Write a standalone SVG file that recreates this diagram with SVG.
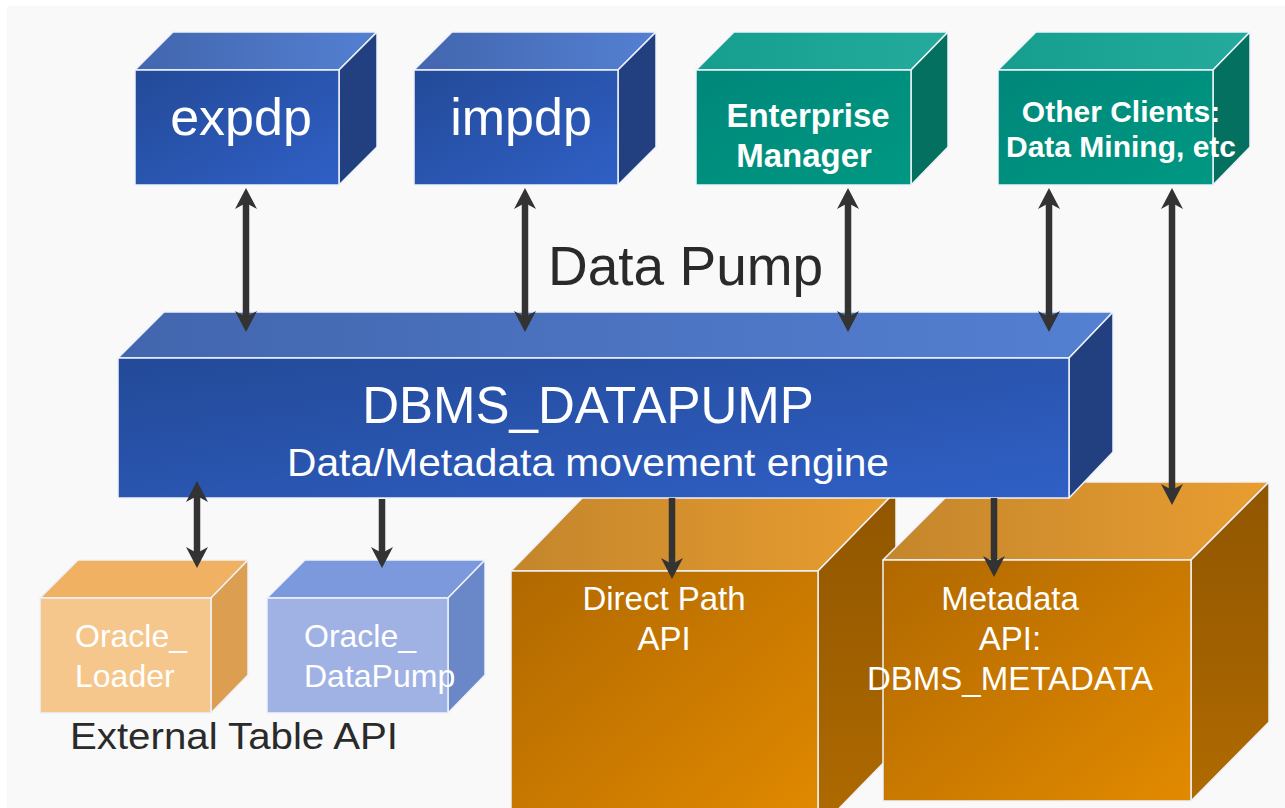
<svg xmlns="http://www.w3.org/2000/svg" width="1285" height="808" viewBox="0 0 1285 808">
<defs>
<linearGradient id="gBlueF" x1="0" y1="0" x2="1" y2="1"><stop offset="0" stop-color="#234a98"/><stop offset="1" stop-color="#3060c6"/></linearGradient>
<linearGradient id="gBlueT" x1="0" y1="0" x2="1" y2="0"><stop offset="0" stop-color="#4266ae"/><stop offset="1" stop-color="#5480d2"/></linearGradient>
<linearGradient id="gTealF" x1="0" y1="0" x2="1" y2="1"><stop offset="0" stop-color="#00877a"/><stop offset="1" stop-color="#009882"/></linearGradient>
<linearGradient id="gTealT" x1="0" y1="0" x2="1" y2="0"><stop offset="0" stop-color="#159e8e"/><stop offset="1" stop-color="#24ab9b"/></linearGradient>
<linearGradient id="gOrF" x1="0" y1="0" x2="1" y2="1"><stop offset="0" stop-color="#b06800"/><stop offset="1" stop-color="#e28a00"/></linearGradient>
<linearGradient id="gOrT" x1="0" y1="0" x2="1" y2="0"><stop offset="0" stop-color="#c4862c"/><stop offset="1" stop-color="#e99d30"/></linearGradient>
<linearGradient id="gOrS" x1="0" y1="0" x2="0" y2="1"><stop offset="0" stop-color="#905600"/><stop offset="1" stop-color="#b06a00"/></linearGradient>
<marker id="ah" viewBox="-14 -14 28 28" refX="0" refY="0" markerWidth="28" markerHeight="28" markerUnits="userSpaceOnUse" orient="auto-start-reverse">
<path d="M10,0 L-11,-11 L-5,0 L-11,11 Z" fill="#333333"/>
</marker>
</defs>
<style>
.edge{stroke:#eef2fa;stroke-width:1.5;stroke-linejoin:round}
.bf{fill:url(#gBlueF)}
.bt{fill:url(#gBlueT)}
.bs{fill:#223f80}
.tf{fill:url(#gTealF)}
.tt{fill:url(#gTealT)}
.ts{fill:#04705f}
.of{fill:url(#gOrF)}
.ot{fill:url(#gOrT)}
.os{fill:url(#gOrS)}
.w{fill:#ffffff;font-family:"Liberation Sans",Arial,sans-serif}
.wb{fill:#ffffff;font-family:"Liberation Sans",Arial,sans-serif;font-weight:bold}
.dk{fill:#2a2a2a;font-family:"Liberation Sans",Arial,sans-serif}
.arr{stroke:#333333;stroke-width:6.5;fill:none}
</style>
<rect x="0" y="0" width="1285" height="808" fill="#ffffff"/>
<rect x="7" y="6" width="1278" height="802" fill="#f9f9f9"/>

<g id="direct-path">
<polygon class="ot edge" points="511,571 589,491 896,491 818,571"/>
<polygon class="os edge" points="818,571 896,491 896,750 818,830"/>
<rect class="of edge" x="511" y="571" width="307" height="260"/>
<text class="w" x="664" y="610" font-size="33" text-anchor="middle">Direct Path</text>
<text class="w" x="664" y="650" font-size="33" text-anchor="middle">API</text>
</g>

<g id="metadata-api">
<polygon class="ot edge" points="883,560 961,482 1269,482 1191,560"/>
<polygon class="os edge" points="1191,560 1269,482 1269,722 1191,801"/>
<rect class="of edge" x="883" y="560" width="308" height="241"/>
<text class="w" x="1010" y="610" font-size="33" text-anchor="middle">Metadata</text>
<text class="w" x="1010" y="650" font-size="33" text-anchor="middle">API:</text>
<text class="w" x="1010" y="690" font-size="33" text-anchor="middle">DBMS_METADATA</text>
</g>

<g id="dbms-datapump">
<polygon class="bt edge" points="118,358 164,312 1113,312 1069,358"/>
<polygon class="bs edge" points="1069,358 1113,312 1113,452 1069,498"/>
<rect class="bf edge" x="118" y="358" width="951" height="140"/>
<text class="w" x="588" y="423" font-size="51" text-anchor="middle">DBMS_DATAPUMP</text>
<text class="w" x="287" y="476" font-size="38" textLength="602" lengthAdjust="spacingAndGlyphs">Data/Metadata movement engine</text>
</g>

<g id="expdp">
<polygon class="bt edge" points="135,70 173,32 377,32 339,70"/>
<polygon class="bs edge" points="339,70 377,32 377,147 339,185"/>
<rect class="bf edge" x="135" y="70" width="204" height="115"/>
<text class="w" x="241" y="135" font-size="52" text-anchor="middle">expdp</text>
</g>

<g id="impdp">
<polygon class="bt edge" points="414,70 452,32 656,32 618,70"/>
<polygon class="bs edge" points="618,70 656,32 656,147 618,185"/>
<rect class="bf edge" x="414" y="70" width="204" height="115"/>
<text class="w" x="521" y="135" font-size="52" text-anchor="middle">impdp</text>
</g>

<g id="enterprise-manager">
<polygon class="tt edge" points="696,70 734,32 948,32 911,70"/>
<polygon class="ts edge" points="911,70 948,32 948,147 911,185"/>
<rect class="tf edge" x="696" y="70" width="215" height="115"/>
<text class="wb" x="808" y="127" font-size="33" text-anchor="middle">Enterprise</text>
<text class="wb" x="804" y="167" font-size="33" text-anchor="middle">Manager</text>
</g>

<g id="other-clients">
<polygon class="tt edge" points="998,70 1036,32 1250,32 1213,70"/>
<polygon class="ts edge" points="1213,70 1250,32 1250,147 1213,185"/>
<rect class="tf edge" x="998" y="70" width="215" height="115"/>
<text class="wb" x="1121" y="122" font-size="30" text-anchor="middle">Other Clients:</text>
<text class="wb" x="1121" y="157" font-size="30" text-anchor="middle">Data Mining, etc</text>
</g>

<g id="oracle-loader">
<polygon class="edge" fill="#f0b262" points="40,598 78,560 248,560 211,598"/>
<polygon class="edge" fill="#dc9e50" points="211,598 248,560 248,675 211,713"/>
<rect class="edge" fill="#f5c78c" x="40" y="598" width="171" height="115"/>
<text class="w" x="75" y="647" font-size="32">Oracle_</text>
<text class="w" x="75" y="687" font-size="32">Loader</text>
</g>

<g id="oracle-datapump">
<polygon class="edge" fill="#7b99dc" points="267,598 305,560 485,560 448,598"/>
<polygon class="edge" fill="#6a87c8" points="448,598 485,560 485,675 448,713"/>
<rect class="edge" fill="#a0b2e4" x="267" y="598" width="181" height="115"/>
<text class="w" x="304" y="647" font-size="32">Oracle_</text>
<text class="w" x="304" y="687" font-size="32">DataPump</text>
</g>

<text id="data-pump-label" class="dk" x="548" y="285" font-size="55">Data Pump</text>
<text id="external-table-label" class="dk" x="70" y="749" font-size="37" textLength="328" lengthAdjust="spacingAndGlyphs">External Table API</text>

<g id="connectors">
<line class="arr" x1="246" y1="198" x2="246" y2="322" marker-start="url(#ah)" marker-end="url(#ah)"/>
<line class="arr" x1="525" y1="198" x2="525" y2="322" marker-start="url(#ah)" marker-end="url(#ah)"/>
<line class="arr" x1="848" y1="198" x2="848" y2="322" marker-start="url(#ah)" marker-end="url(#ah)"/>
<line class="arr" x1="1049" y1="198" x2="1049" y2="322" marker-start="url(#ah)" marker-end="url(#ah)"/>
<line class="arr" x1="1172" y1="198" x2="1172" y2="495" marker-start="url(#ah)" marker-end="url(#ah)"/>
<line class="arr" x1="197" y1="491" x2="197" y2="558" marker-start="url(#ah)" marker-end="url(#ah)"/>
<line class="arr" x1="382" y1="499" x2="382" y2="558" marker-end="url(#ah)"/>
<line class="arr" x1="672" y1="498" x2="672" y2="569" marker-end="url(#ah)"/>
<line class="arr" x1="994" y1="498" x2="994" y2="567" marker-end="url(#ah)"/>
</g>
</svg>
